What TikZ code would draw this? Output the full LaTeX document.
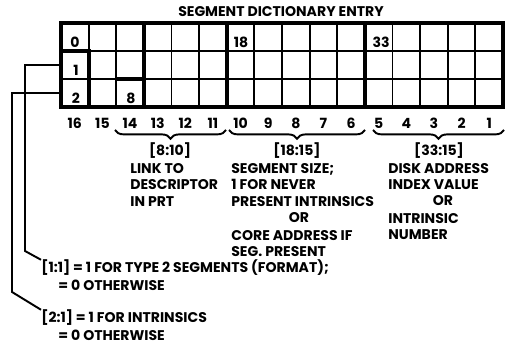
\documentclass[tikz,border=0pt]{standalone}
\usepackage{fontspec}
\setmainfont{Poppins}
\usepackage{tikz}
\usetikzlibrary{decorations.pathreplacing}

\begin{document}
\begin{tikzpicture}[x=0.02cm, y=-0.02cm, font=\fontsize{8}{9.45}\selectfont\bfseries,
    every node/.style={inner sep=0pt},
    grid/.style={line width=1.1pt},
    heavy/.style={line width=2.3pt},
    brc/.style={decorate, decoration={brace, mirror, amplitude=5pt}, line width=1.1pt},
    lead/.style={line width=1.1pt},
    txt/.style={anchor=north west, align=left}]
\useasboundingbox (0,0) rectangle (507,350);
\node (title) at (281,12) {SEGMENT DICTIONARY ENTRY};
% word grid, 16 bits by 3 rows
\foreach \i in {1,...,15}
  \draw[grid] ({61+27.625*\i},23) -- ({61+27.625*\i},107);
\draw[grid] (61,51) -- (503,51);
\draw[grid] (61,79) -- (503,79);
\foreach \i in {3,6,11}
  \draw[heavy] ({61+27.625*\i},23) -- ({61+27.625*\i},107);
\draw[heavy] (61,51) -- (88.6,51) -- (88.6,107);
\draw[heavy] (116.25,79) -- (143.9,79);
\draw[line width=1.8pt] (61,23) rectangle (503,107);
\draw[heavy] (61,51) -- (61,107);
\node (n0) at (75,42) {0};
\node (n1) at (76,70) {1};
\node (n2) at (76,98) {2};
\node (n8) at (131,98) {8};
\node (n18) at (241,42) {18};
\node (n33) at (381,42) {33};
% bit numbers
\foreach \b [count=\i from 0] in {16,...,1}
  \node (b\b) at ({74.8+27.625*\i},123) {\b};
% fields
\coordinate (f1a) at (115,130);
\coordinate (f1b) at (226,130);
\coordinate (f2a) at (229,130);
\coordinate (f2b) at (365,130);
\coordinate (f3a) at (373,130);
\coordinate (f3b) at (504,130);
\draw[brc] (f1a) -- (f1b);
\draw[brc] (f2a) -- (f2b);
\draw[brc] (f3a) -- (f3b);
\node (k1) at (170,151) {[8:10]};
\node (k2) at (297,151) {[18:15]};
\node (k3) at (439,151) {[33:15]};
\node[txt] (link) at (130,163) {LINK TO\\DESCRIPTOR\\IN PRT};
\node[txt] (size) at (231,163) {SEGMENT SIZE;\\1 FOR NEVER\\PRESENT INTRINSICS};
\node (or2) at (299,218) {OR};
\node[txt] (core) at (231,230) {CORE ADDRESS IF\\SEG. PRESENT};
\node[txt] (disk) at (388,163) {DISK ADDRESS\\INDEX VALUE};
\node (or3) at (443,201) {OR};
\node[txt] (num) at (388,213) {INTRINSIC\\NUMBER};
% flag bits
\node[anchor=west] (fmt) at (41,268) {[1:1] = 1 FOR TYPE 2 SEGMENTS (FORMAT);};
\node[anchor=west] (fmt0) at (58,285) {= 0 OTHERWISE};
\node[anchor=west] (intr) at (41,318) {[2:1] = 1 FOR INTRINSICS};
\node[anchor=west] (intr0) at (58,335) {= 0 OTHERWISE};
\coordinate (r1) at (61,65);
\coordinate (r2) at (61,93);
\draw[lead] (r1) -| (25,251) -- (fmt.north west);
\draw[lead] (r2) -| (12,292) -- (intr.north west);
\end{tikzpicture}
\end{document}
